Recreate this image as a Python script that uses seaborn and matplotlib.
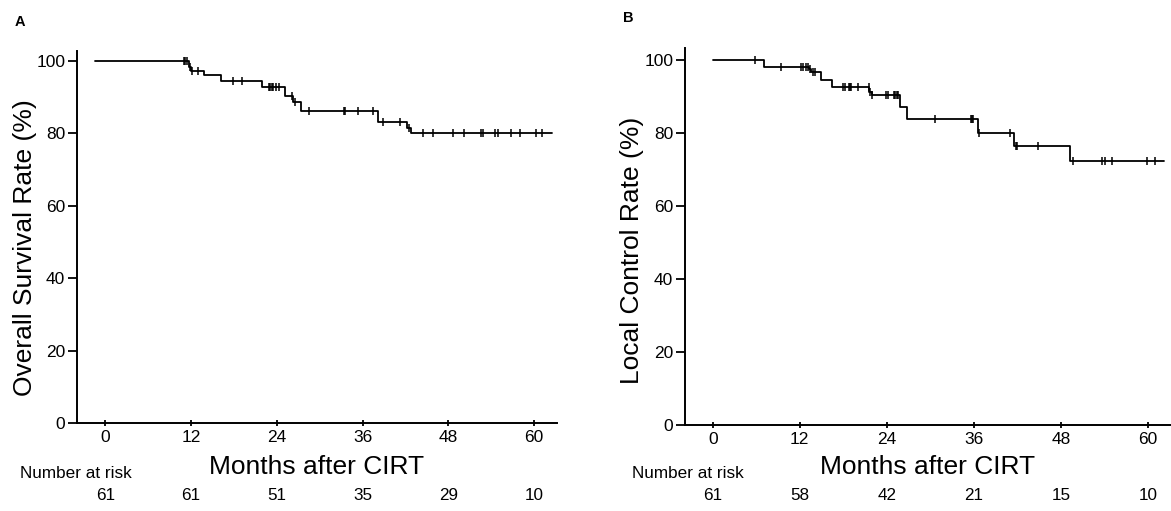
import numpy as np
import matplotlib
matplotlib.use('Agg')
import matplotlib.pyplot as plt
import matplotlib.transforms as mtransforms
import seaborn as sns

# Panel A: overall survival (times in months)
os_times = [-1.4, 11.65, 12.0, 13.75, 16.2, 21.9, 25.2, 26.3, 27.4, 38.1, 42.2, 42.8]
os_levels = [100, 98.4, 97.3, 96.2, 94.4, 92.8, 90.4, 88.7, 86.1, 83.2, 81.6, 80.2]
os_end = 62.5
os_censor = [11.0, 11.2, 11.4, 11.8, 12.1, 12.9, 17.9, 19.1, 22.9, 23.1, 23.3, 23.5,
             23.9, 24.3, 26.1, 26.6, 28.5, 33.4, 33.6, 35.3, 37.5, 38.8, 41.2, 42.5,
             44.5, 45.8, 48.6, 50.2, 52.5, 52.8, 54.5, 55.0, 56.8, 58.0, 60.3, 61.1]
os_risk = [61, 61, 51, 35, 29, 10]

# Panel B: local control
lc_times = [0, 7.08, 13.3, 13.5, 14.9, 16.5, 21.6, 21.9, 25.8, 26.8, 36.6, 41.6, 49.3]
lc_levels = [100, 98.2, 97.4, 96.6, 94.5, 92.7, 91.3, 90.4, 87.1, 83.9, 80.1, 76.4, 72.2]
lc_end = 62.3
lc_censor = [5.83, 9.4, 12.2, 12.5, 12.9, 13.2, 13.4, 13.8, 14.1, 17.9, 18.3, 18.8,
             18.95, 19.1, 20.0, 21.5, 21.75, 22.0, 23.9, 24.2, 25.0, 25.2, 25.4, 25.6,
             30.6, 35.6, 35.75, 35.9, 36.7, 41.0, 41.8, 42.0, 44.8, 49.7, 53.7, 54.1,
             55.0, 59.9, 61.0]
lc_risk = [61, 58, 42, 21, 15, 10]

risk_ticks = [0, 12, 24, 36, 48, 60]

W, H = 1171, 511

sns.set_style('ticks')
plt.rcParams['font.family'] = ['Liberation Sans', 'DejaVu Sans']
plt.rcParams.update({'text.color': 'black', 'axes.labelcolor': 'black',
                     'xtick.color': 'black', 'ytick.color': 'black',
                     'axes.edgecolor': 'black'})

fig = plt.figure(figsize=(W / 100, H / 100), dpi=100)


def fx(px):
    return px / W


def fy(py):
    return 1 - py / H


def km_panel(rect, times, levels, end, censor, risk, xlim, ylim, ylabel,
             letter, letter_xy, ylabel_xy, xlabel_y, risk_label_x):
    ax = fig.add_axes(rect)
    xs = list(times) + [end]
    ys = list(levels) + [levels[-1]]
    sns.lineplot(x=xs, y=ys, drawstyle='steps-post', estimator=None, sort=False,
                 color='black', linewidth=1.3, ax=ax)
    idx = np.searchsorted(times, censor, side='right') - 1
    cy = np.array(levels)[idx]
    sns.scatterplot(x=censor, y=cy, marker='|', s=40, color='black',
                    linewidth=1.1, ax=ax, zorder=3)

    ax.set_xlim(*xlim)
    ax.set_ylim(*ylim)
    ax.set_xticks(risk_ticks)
    ax.set_yticks([0, 20, 40, 60, 80, 100])
    sns.despine(ax=ax)
    for s in ['left', 'bottom']:
        ax.spines[s].set_linewidth(1.4)
    ax.tick_params(axis='x', direction='inout', length=5, width=1.3,
                   labelsize=12.5, pad=2.5)
    ax.tick_params(axis='y', direction='out', length=6.5, width=1.3,
                   labelsize=12.5, pad=2)

    fig.text(fx(letter_xy[0]), fy(letter_xy[1]), letter, fontsize=10.5,
             fontweight='bold', ha='left', va='center')
    fig.text(fx(ylabel_xy[0]), fy(ylabel_xy[1]), ylabel, fontsize=19,
             rotation=90, ha='center', va='center')
    cx = rect[0] + rect[2] / 2
    fig.text(cx, fy(xlabel_y), 'Months after CIRT', fontsize=19,
             ha='center', va='center')
    fig.text(fx(risk_label_x), fy(473), 'Number at risk', fontsize=12.3,
             ha='left', va='center')
    trans = mtransforms.blended_transform_factory(ax.transData, fig.transFigure)
    for t, n in zip(risk_ticks, risk):
        ax.text(t, fy(496), str(n), transform=trans, fontsize=12.3,
                ha='center', va='center', clip_on=False)
    return ax


km_panel([fx(77), fy(423.3), fx(557) - fx(77), (423.3 - 50.7) / H],
         os_times, os_levels, os_end, os_censor, os_risk,
         (-3.96, 63.2), (0, 102.8), 'Overall Survival Rate (%)',
         'A', (15, 22), (25, 248), 467, 20)

km_panel([fx(685), fy(425), fx(1171) - fx(685), (425 - 48.3) / H],
         lc_times, lc_levels, lc_end, lc_censor, lc_risk,
         (-3.82, 63.2), (0, 103.2), 'Local Control Rate (%)',
         'B', (623, 18), (632, 250), 467, 632)

fig.savefig('out.png', dpi=100)
